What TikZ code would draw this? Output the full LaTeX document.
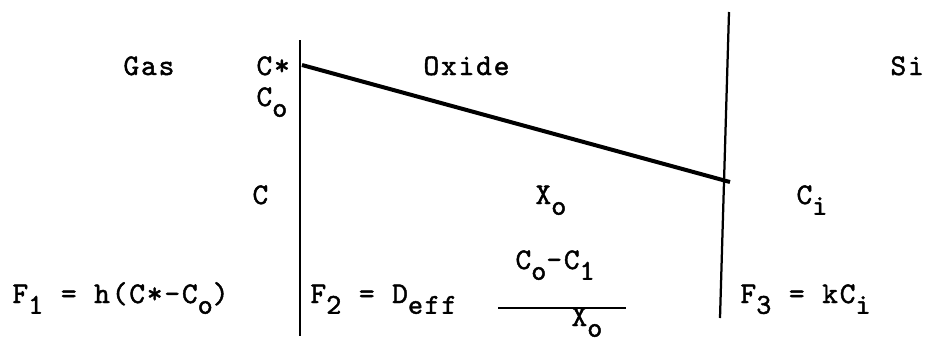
\documentclass[tikz,border=0pt]{standalone}
\usepackage{fontspec}
\setmonofont{lmmono10-regular.otf}[LetterSpace=6,FakeBold=1.5]
\usepackage{tikz}

% lowered small index, as on the typewriter
\newcommand\lo[1]{\raisebox{-4.3pt}{\fontsize{11.5}{11.5}\selectfont #1}}

\begin{document}
\begin{tikzpicture}[
  x=0.4pt, y=-0.4pt,
  every node/.style={font=\ttfamily\fontsize{12}{14}\selectfont, anchor=base west, inner sep=0pt},
  wall/.style={line width=0.9pt},
  profile/.style={line width=1.6pt}
]
\useasboundingbox (0,0) rectangle (926,342);

% Interfaces
\coordinate (gastop) at (300,40);
\coordinate (gasbot) at (300,336);
\coordinate (sitop) at (729,12);
\coordinate (sibot) at (720,318);
\coordinate (cstar) at (302,65);
\coordinate (ci) at (730,182);

% Region names
\node (gas) at (123,75) {Gas};
\node (oxide) at (423,75) {Oxide};
\node (si) at (890,75) {Si};

% Concentrations
\node (cst) at (256,75) {C*};
\node (co) at (256,106) {C\lo{o}};
\node (c) at (252,204) {C};
\node (xo) at (535,204) {X\lo{o}};
\node (cil) at (796,204) {C\lo{i}};

% Fluxes
\node (f1) at (12,303) {F\lo{1} = h(C*-C\lo{o})};
\node (f2) at (310,303) {F\lo{2} = D\lo{eff}};
\node (num) at (515,269) {C\lo{o}-C\lo{1}};
\node (den) at (571,326) {X\lo{o}};
\coordinate (barl) at (498,308);
\coordinate (barr) at (626,308);
\node (f3) at (740,303) {F\lo{3} = kC\lo{i}};

% Lines
\draw[wall] (gastop) -- (gasbot);
\draw[wall] (sitop) -- (sibot);
\draw[profile] (cstar) -- (ci);
\draw[wall] (barl) -- (barr);
\end{tikzpicture}
\end{document}
